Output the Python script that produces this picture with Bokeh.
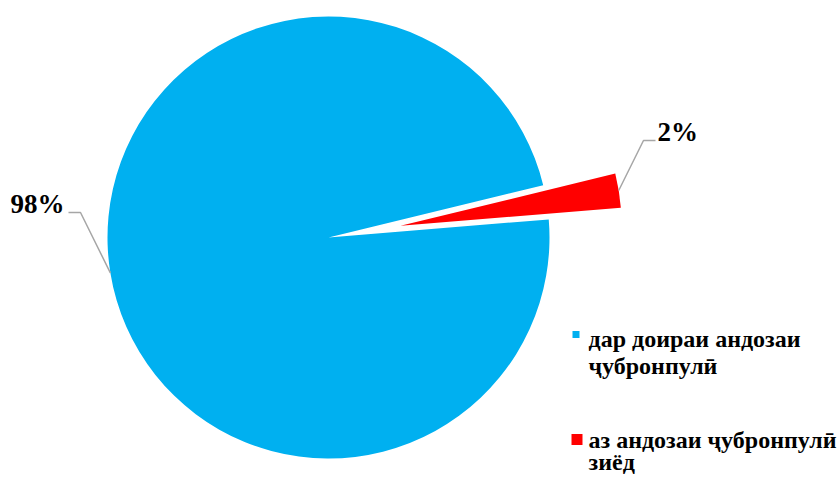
import math
from bokeh.plotting import figure
from bokeh.models import Range1d
from bokeh.core.properties import value
from bokeh.embed import file_html
from bokeh.resources import INLINE

# ---- data ----
categories = ["дар доираи андозаи ҷубронпулӣ", "аз андозаи ҷубронпулӣ зиёд"]
legend_lines = [["дар доираи андозаи", "ҷубронпулӣ"], ["аз андозаи ҷубронпулӣ", "зиёд"]]
values = [97.5, 2.5]
colors = ["#00B0F0", "#FF0000"]

W, H = 840, 479
FONT = value("Liberation Serif")
BASE_FIX = 0.34  # em shift: rendered baseline sits lower than requested


def X(sx):
    return sx


def Y(sy):
    return H - sy


def TY(sy, fs):
    return H - (sy - BASE_FIX * fs)


p = figure(width=W, height=H, x_range=Range1d(0, W), y_range=Range1d(0, H),
           x_axis_type=None, y_axis_type=None, toolbar_location=None,
           output_backend="svg", min_border=0, outline_line_color=None)
p.grid.visible = False
p.background_fill_color = "white"
p.border_fill_color = "white"

total = sum(values)
cx, cy, R = X(328), Y(237), 221
red_mid = math.radians(9.2)
red_span = values[1] / total * 2 * math.pi
explode = 73

# blue slice (rest of circle)
b_start = red_mid + red_span / 2
b_end = red_mid - red_span / 2
p.wedge(x=[cx], y=[cy], radius=R, start_angle=[b_start], end_angle=[b_end],
        direction="anticlock", fill_color=colors[0], line_color=None)
# red slice, exploded
rx = cx + explode * math.cos(red_mid)
ry = cy + explode * math.sin(red_mid)
p.wedge(x=[rx], y=[ry], radius=R, start_angle=[red_mid - red_span / 2],
        end_angle=[red_mid + red_span / 2], direction="anticlock",
        fill_color=colors[1], line_color=None)

labels = [f"{v:.0f}%" for v in values]

# leader lines
b_mid = b_start + (2 * math.pi - red_span) / 2
bx, by = cx + R * math.cos(b_mid), cy + R * math.sin(b_mid)
p.line([bx, X(80), X(68)], [by, Y(212), Y(212)], line_color="#A6A6A6", line_width=1.5)
ex, ey = rx + R * math.cos(red_mid), ry + R * math.sin(red_mid)
p.line([ex, X(643), X(655)], [ey, Y(140), Y(140)], line_color="#A6A6A6", line_width=1.5)

p.text(x=[X(10)], y=[TY(212.5, 27)], text=[labels[0]], text_font=FONT, text_font_style="bold",
       text_font_size="27px", text_baseline="alphabetic", text_align="left", text_color="black")
p.text(x=[X(657)], y=[TY(141, 27)], text=[labels[1]], text_font=FONT, text_font_style="bold",
       text_font_size="27px", text_baseline="alphabetic", text_align="left", text_color="black")

# legend
p.scatter(x=[X(575.5)], y=[Y(334)], marker="square", size=7, fill_color=colors[0], line_color=None)
p.scatter(x=[X(576.5)], y=[Y(439)], marker="square", size=11, fill_color=colors[1], line_color=None)
baselines = [[347, 374], [448, 470]]
for lines, bls in zip(legend_lines, baselines):
    p.text(x=[X(588)] * len(lines), y=[TY(b, 24) for b in bls], text=lines, text_font=FONT,
           text_font_style="bold", text_font_size="24px", text_baseline="alphabetic",
           text_align="left", text_color="black")

open("out.html", "w").write(file_html(p, INLINE))
